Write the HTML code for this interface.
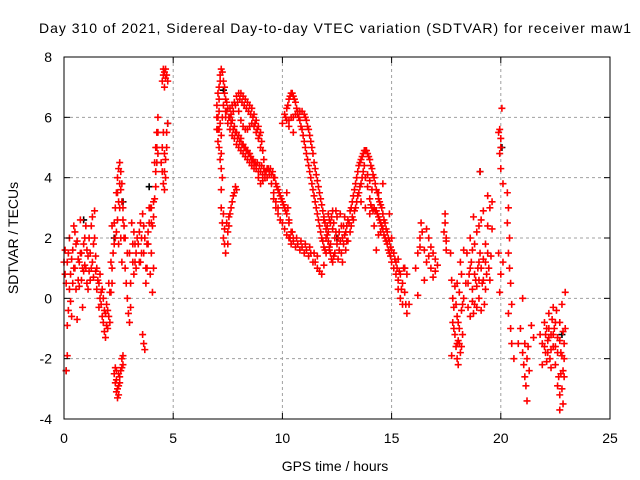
<!DOCTYPE html>
<html><head><meta charset="utf-8"><style>
html,body{margin:0;padding:0;background:#fff;}
svg{display:block;font-family:"Liberation Sans",sans-serif;}
</style></head><body>
<svg id="chart" width="640" height="480" viewBox="0 0 640 480">
<rect x="0" y="0" width="640" height="480" fill="#fff"/>
<text x="335" y="33" font-size="14" text-anchor="middle" textLength="592">Day 310 of 2021, Sidereal Day-to-day VTEC variation (SDTVAR) for receiver maw1</text>
<g id="grid"></g>
<g id="black"></g>
<g id="red"></g>
<rect x="64" y="57" width="546" height="362" fill="none" stroke="#000" stroke-width="1"/>
<g id="ticks"></g>
<text x="335" y="471" font-size="14" text-anchor="middle">GPS time / hours</text>
<text transform="translate(18,238) rotate(-90)" font-size="14" text-anchor="middle">SDTVAR / TECUs</text>
</svg>
<script>
const xTicks = [0,5,10,15,20,25];
const yTicks = [-4,-2,0,2,4,6,8];
const blackPoints = [[0.1,-2.4],[0.9,2.6],[2.7,3.2],[3.9,3.7],[4.75,5.8],[19.05,4.2],[20.05,5.0],[15.6,1.0],[2.3,2.0],[22.8,-1.2],[12.5,2.0],[7.3,6.9]];
const redPointsMain = [
[0.0,1.2],[0.05,1.6],[0.1,0.5],[0.1,-2.4],[0.15,-1.9],[0.15,-0.9],[0.2,-0.4],[0.2,1.5],[0.25,2.0],[0.3,0.8],[0.3,-0.1],[0.35,1.3],[0.4,1.6],[0.4,0.5],[0.45,2.4],[0.5,1.0],[0.5,2.2],[0.55,0.3],[0.6,1.9],[0.6,-0.7],[0.65,1.3],[0.7,1.2],[0.7,0.4],[0.75,2.6],[0.8,0.6],[0.8,1.5],[0.85,-0.3],[0.9,1.8],[0.9,0.9],[0.95,1.1],[1.0,1.0],[1.0,2.4],[1.05,0.5],[1.1,0.3],[1.1,1.4],[1.15,2.0],[1.2,1.5],[1.2,0.6],[1.25,2.4],[1.3,2.7],[1.3,1.2],[1.35,0.7],[1.4,2.0],[1.4,2.9],[1.45,0.9],[1.5,1.0],[1.5,0.3],
[1.6,0.5],[1.6,-0.3],[1.65,0.8],[1.7,-0.2],[1.7,0.2],[1.75,-0.6],[1.8,-0.8],[1.8,0.0],[1.85,-1.1],[1.9,-1.3],[1.9,-0.5],[1.95,-0.9],[2.0,-0.4],[2.0,-1.0],[2.05,0.5],[2.1,0.2],[2.1,-0.8],[2.15,1.2],[2.2,1.0],[2.2,0.5],[2.2,2.4],
[2.25,1.5],[2.3,2.5],[2.3,1.8],[2.35,3.0],[2.4,3.5],[2.4,2.2],[2.45,4.0],[2.5,4.3],[2.5,3.2],[2.55,4.5],[2.6,4.2],[2.6,3.6],[2.65,3.8],[2.7,3.0],[2.7,2.6],[2.75,2.0],[2.8,1.0],[2.8,2.0],[2.85,0.5],[2.9,1.5],[2.55,3.0],[2.6,2.0],[2.65,1.2],[2.5,1.8],
[2.3,-2.5],[2.35,-2.8],[2.4,-3.1],[2.45,-3.3],[2.5,-2.9],[2.55,-2.6],[2.6,-2.4],[2.65,-2.0],[2.7,-2.2],[2.4,-2.4],[2.5,-2.5],[2.7,-1.9],[2.35,-2.3],
[2.9,0.0],[2.95,-0.5],[3.0,-0.8],[3.05,-0.3],[3.0,1.5],[3.05,0.5],[3.1,2.5],[3.15,1.8],[3.2,2.2],[3.25,1.2],[3.3,1.5],[3.2,0.8],[3.3,1.0],[3.35,2.0],
[3.4,1.8],[3.45,1.2],[3.5,2.5],[3.55,2.0],[3.6,2.8],[3.65,1.5],[3.7,2.0],[3.75,1.0],[3.8,1.0],[3.85,1.8],[3.9,2.5],[3.95,3.0],[4.0,3.0],[4.05,2.4],[4.1,3.2],[3.5,1.2],[3.6,-1.2],[3.65,-1.5],[3.7,-1.7],[3.8,1.8],[3.9,3.0],[4.0,1.5],[3.95,0.8],[3.75,0.5],[4.05,0.2],[4.1,1.0],
[4.15,4.5],[4.2,5.0],[4.25,5.5],[4.3,6.0],[4.2,4.2],[4.25,5.0],[4.3,4.8],[4.2,3.7],[4.15,3.3],
[4.45,4.5],[4.5,5.0],[4.55,5.5],[4.6,4.2],[4.65,4.0],[4.7,5.5],[4.75,5.8],[4.55,3.8],[4.6,3.6],[4.65,4.6],[4.5,7.2],[4.55,7.4],[4.6,7.5],[4.65,7.6],[4.7,7.4],[4.75,7.2],[4.6,7.0],
[7.0,6.4],[7.05,6.0],[7.1,7.0],[7.15,7.4],[7.2,7.6],[7.25,7.5],[7.3,7.2],[7.35,6.8],[7.4,6.6],[7.45,6.5],[7.1,6.6],[7.15,7.2],
[7.0,5.6],[7.05,5.2],[7.1,5.0],[7.15,4.6],[7.2,4.3],[7.0,6.0],[7.05,5.6],
[7.2,3.0],[7.25,2.5],[7.3,2.0],[7.35,1.8],[7.4,1.5],[7.3,2.8],[7.2,3.6],[7.35,2.3],
[7.45,2.5],[7.5,2.2],[7.55,2.7],[7.6,2.8],[7.65,3.0],[7.7,3.2],[7.75,3.4],[7.8,3.5],[7.85,3.7],[7.9,3.6],[7.5,1.8],[7.55,2.4],
[7.4,6.0],[7.5,5.8],[7.6,5.6],[7.7,5.4],[7.8,5.3],[7.9,5.1],[8.0,5.0],[8.1,4.9],[8.2,4.8],[8.3,4.7],[8.4,4.6],[8.5,4.5],[8.6,4.4],[8.7,4.3],[8.8,4.3],[8.9,4.2],[9.0,4.2],[9.1,4.1],[9.2,4.0],[9.3,4.0],[9.4,4.1],[9.5,4.1],[9.6,4.0],[9.7,3.8],[9.8,3.6],[9.9,3.4],[10.0,3.2],[10.1,3.0],[10.2,2.8],[10.3,2.5],[10.4,2.2],[10.5,2.0],
[7.5,6.3],[7.6,6.0],[7.7,5.9],[7.8,5.7],[7.9,5.5],[8.0,5.4],[8.1,5.3],[8.2,5.1],[8.3,5.0],[8.4,4.9],[8.5,4.8],[8.6,4.6],[8.7,4.5],[8.8,4.4],[8.9,4.0],[9.0,3.8],[9.1,3.9],[9.2,4.2],[9.3,4.3],[9.4,4.2],[9.5,3.8],[9.6,3.5],[9.7,3.2],[9.8,3.0],
[7.6,6.3],[7.7,6.4],[7.8,6.5],[7.9,6.7],[8.0,6.8],[8.1,6.8],[8.2,6.7],[8.3,6.6],[8.4,6.5],[8.5,6.4],[8.6,6.3],[8.7,6.1],[8.8,5.9],[8.9,5.7],[9.0,5.5],
[8.0,6.2],[8.1,5.9],[8.2,5.7],[8.3,5.6],[8.4,5.6],[8.5,5.7],[8.6,5.8],[8.7,5.7],[8.8,5.5],[8.9,5.3],[9.0,5.0],
[9.6,3.3],[9.7,3.0],[9.8,2.8],[9.9,2.6],[10.0,2.5],[10.1,2.3],[10.2,2.1],[10.3,2.0],
[10.0,5.8],[10.1,6.1],[10.2,6.3],[10.3,6.6],[10.4,6.8],[10.5,6.7],[10.6,6.5],[10.7,6.2],[10.8,5.9],[10.9,5.6],[11.0,5.2],[11.1,4.8],[11.2,4.4],[11.3,4.0],[11.4,3.6],[11.5,3.2],[11.6,2.8],[11.7,2.4],[11.8,2.0],[11.9,1.7],[12.0,1.5],
[10.2,5.9],[10.4,6.0],[10.6,6.1],[10.8,6.2],[11.0,6.1],[11.1,5.9],[11.2,5.6],[11.3,5.2],[11.4,4.8],[11.5,4.3],[11.6,3.9],[11.7,3.5],[11.8,3.1],[11.9,2.7],[12.0,2.3],[12.1,1.9],[12.2,1.5],[12.3,1.2],[10.3,5.7],[10.5,5.5],
[10.35,2.0],[10.5,1.9],[10.7,1.8],[10.9,1.7],[11.1,1.6],[11.3,1.5],[11.5,1.2],[11.7,0.9],[11.8,0.8],[11.6,1.4],[11.9,1.1],
[10.2,3.5],[10.25,3.0],[10.3,2.6],
[12.0,2.0],[12.1,2.2],[12.2,2.5],[12.3,2.3],[12.4,2.0],[12.5,1.8],[12.6,1.6],[12.7,1.5],[12.8,1.8],[12.9,2.2],[13.0,2.6],[12.2,1.8],[12.4,1.5],[12.6,2.2],[12.8,2.4],[13.0,1.9],[13.1,2.2],[13.2,2.7],[12.3,2.9],[12.5,2.7],[12.7,2.4],[12.9,1.6],[11.9,2.6],[12.1,2.8],
[13.1,2.9],[13.2,3.2],[13.3,3.6],[13.4,4.0],[13.5,4.4],[13.6,4.6],[13.7,4.8],[13.8,4.9],[13.9,4.8],[14.0,4.6],[14.1,4.3],[14.2,4.0],[14.3,3.6],[14.4,3.3],[14.5,3.1],[14.6,2.8],[14.7,2.5],[14.8,2.2],[14.9,1.9],[15.0,1.6],
[13.3,2.9],[13.4,3.2],[13.5,3.5],[13.6,3.8],[13.7,4.2],[13.8,4.0],[13.9,3.7],[14.0,3.3],[14.1,3.0],[14.2,3.0],[14.3,2.9],[14.4,2.7],[14.5,2.5],[14.6,2.3],[14.7,2.0],[14.8,1.8],[14.9,1.5],[15.0,1.2],[13.9,4.1],[14.0,3.9],[14.1,3.6],
[13.6,3.2],[13.8,3.0],[14.0,2.8],[14.2,2.4],[14.4,2.1],
[15.1,1.0],[15.2,0.8],[15.3,0.6],[15.1,1.5],[15.2,1.2],[15.3,0.3],[15.4,0.8],[15.5,0.5],[15.5,-0.2],[15.6,0.2],[15.7,-0.5],[15.7,0.8],[15.8,-0.2],[15.6,1.0],[15.4,0.0],[15.3,1.3],
[14.3,1.6],[14.4,3.5],[14.6,3.8],[14.5,2.2],[15.0,2.0],[14.9,2.8],
[16.1,1.0],[16.2,1.5],[16.3,2.0],[16.35,2.5],[16.4,2.2],[16.5,1.6],[16.6,1.2],[16.7,1.4],[16.8,1.0],[16.9,1.5],[17.0,1.3],[17.1,1.1],[16.3,1.7],[16.5,0.6],[16.7,2.0],[16.9,0.7],[16.8,1.7],[17.0,0.9],[16.2,0.1],[16.6,2.3],
[17.4,2.2],[17.45,2.5],[17.5,2.0],[17.5,1.9],[17.45,2.8],[17.5,1.6],
[17.7,1.5],[17.75,0.6],[17.8,0.0],[17.8,-0.8],[17.85,-0.3],[17.9,-1.2],[17.9,0.4],[17.95,-1.6],[18.0,-2.0],[18.0,-0.6],[18.05,-2.2],[18.1,-1.0],[18.1,0.2],[18.15,-1.8],[18.2,-0.4],[18.2,0.8],[18.25,-1.2],[18.3,0.0],[18.3,1.6],[17.75,-1.9],[17.95,-0.2],[18.0,0.5],[18.15,1.2],[18.05,-1.4],
[18.4,0.5],[18.45,1.5],[18.5,-0.3],[18.55,0.8],[18.6,2.0],[18.65,1.2],[18.7,0.3],[18.75,-0.5],[18.8,1.8],[18.85,0.6],[18.9,2.2],[18.95,1.0],[19.0,0.0],[19.05,1.5],[19.1,2.6],[19.15,0.5],[19.2,1.3],[19.25,-0.2],[19.3,1.8],[19.35,0.8],[19.4,2.4],[19.45,1.0],[19.5,3.0],[19.55,1.4],[18.6,-0.6],[18.7,1.6],[18.9,-0.3],[19.0,1.2],[19.1,-0.4],[19.3,0.3],[19.5,0.6],[19.2,2.9],[19.0,2.4],[18.8,-0.2],
[19.05,4.2],[18.75,2.7],[19.4,3.4],[19.6,3.2],[19.6,2.3],
[19.9,5.5],[19.95,5.6],[20.0,5.3],[20.05,6.3],[20.0,5.0],[19.95,4.8],[20.1,3.8],[20.0,4.3],[19.9,1.5],[20.0,0.8],[19.95,0.2],[20.1,1.2],
[20.3,3.5],[20.35,3.0],[20.3,2.5],[20.4,2.0],[20.35,1.5],[20.4,1.0],[20.45,0.5],[20.5,-0.2],[20.45,-1.0],[20.5,-1.5],[20.6,-2.0],[20.35,-0.5],
[20.9,-1.0],[21.0,-1.8],[21.05,-2.2],[21.1,-2.6],[21.15,-2.9],[21.2,-3.4],[21.1,-1.5],[21.2,-2.0],[21.3,-2.4],[21.25,-1.6],[21.5,-1.3],[21.4,-0.9],[20.8,-1.5],[21.0,0.0],
[21.8,-1.2],[21.9,-1.5],[22.0,-0.8],[22.05,-1.8],[22.1,-1.0],[22.15,-1.4],[22.2,-0.5],[22.25,-2.0],[22.3,-1.2],[22.35,-0.7],[22.4,-1.6],[22.45,-1.0],[22.5,-2.2],[22.55,-0.4],[22.6,-1.3],[22.65,-2.6],[22.7,-0.8],[22.75,-1.8],[22.8,-3.0],[22.85,-2.4],[22.9,-1.5],[22.95,0.2],[22.85,-3.5],[22.7,-3.2],[22.9,-2.0],[22.6,-2.9],[22.8,-0.2],[22.3,-2.3],[22.0,-1.6],[22.1,-2.1],[21.9,-2.2],[22.4,-0.3],[22.7,-3.7],[22.95,-1.0],[22.5,-1.6],[22.2,-1.3]
];
const redPointsDense = [
[7.45,6.2],[7.55,6.0],[7.65,5.8],[7.75,5.6],[7.85,5.5],[7.95,5.3],[8.05,5.2],[8.15,5.1],[8.25,5.0],[8.35,4.9],[8.45,4.8],[8.55,4.7],[8.65,4.6],[8.75,4.5],[8.85,4.5],[8.95,4.4],[9.05,4.4],[9.15,4.3],[9.25,4.2],[9.35,4.3],[9.45,4.3],[9.55,4.2],[9.65,4.0],[9.75,3.7],[9.85,3.5],[9.95,3.3],[10.05,3.1],[10.15,2.9],
[7.65,6.1],[7.75,6.2],[7.85,6.4],[7.95,6.5],[8.05,6.6],[8.15,6.5],[8.25,6.4],[8.35,6.3],[8.45,6.2],[8.55,6.1],[8.65,6.0],[8.75,5.8],[8.85,5.6],[8.95,5.4],[9.05,5.2],[9.1,4.9],[9.15,4.6],
[7.05,6.8],[7.1,6.2],[7.15,5.8],[7.2,5.4],[7.25,6.0],[7.3,6.4],[7.25,4.0],[7.2,4.8],[7.1,5.6],[7.35,7.0],[7.4,6.2],
[10.15,6.0],[10.25,6.4],[10.35,6.7],[10.45,6.8],[10.55,6.6],[10.65,6.3],[10.75,6.0],[10.85,5.7],[10.95,5.4],[11.05,5.0],[11.15,4.6],[11.25,4.2],[11.35,3.8],[11.45,3.4],[11.55,3.0],[11.65,2.6],[11.75,2.2],[11.85,1.9],[11.95,1.6],
[10.3,5.9],[10.5,6.0],[10.7,6.1],[10.9,6.2],[11.05,6.0],[11.15,5.7],[11.25,5.4],[11.35,5.0],[11.45,4.5],[11.55,4.1],[11.65,3.7],[11.75,3.3],[11.85,2.9],[11.95,2.5],[12.05,2.1],[12.15,1.7],[12.25,1.3],
[10.4,1.8],[10.6,1.7],[10.8,1.6],[11.0,1.5],[11.2,1.4],[11.4,1.2],[11.6,1.0],[10.45,2.2],[10.65,2.0],[10.85,1.9],[11.05,1.8],[11.25,1.7],[11.45,1.5],
[12.05,2.4],[12.15,2.6],[12.25,2.7],[12.35,2.5],[12.45,2.2],[12.55,2.0],[12.65,1.9],[12.75,2.0],[12.85,2.1],[12.95,2.4],[13.05,2.5],[12.15,1.6],[12.35,1.4],[12.55,1.3],[12.75,1.2],[12.95,1.9],[13.15,2.4],[13.25,2.6],[12.45,2.9],[12.65,2.8],[12.85,2.7],
[13.15,3.0],[13.25,3.4],[13.35,3.8],[13.45,4.2],[13.55,4.5],[13.65,4.7],[13.75,4.9],[13.85,4.9],[13.95,4.7],[14.05,4.4],[14.15,4.1],[14.25,3.8],[14.35,3.5],[14.45,3.2],[14.55,3.0],[14.65,2.6],[14.75,2.3],[14.85,2.0],[14.95,1.7],
[13.35,3.0],[13.45,3.4],[13.55,3.7],[13.65,4.0],[13.75,4.4],[14.05,3.1],[14.15,2.9],[14.25,2.9],[14.35,2.8],[14.45,2.6],[14.55,2.4],[14.65,2.1],[14.75,1.9],[14.85,1.6],[14.95,1.4],
[0.05,0.8],[0.15,1.2],[0.25,0.3],[0.35,-0.6],[0.45,1.0],[0.55,1.8],[0.65,0.6],[0.75,1.5],[0.85,1.0],[0.95,2.0],[1.05,1.6],[1.15,0.9],[1.25,1.0],[1.35,1.8],[1.45,1.4],[1.55,0.6],[1.65,0.0],[1.75,0.3],[1.85,-0.4],[1.95,-0.2],[2.05,-0.6],[2.15,0.2],[2.45,3.5],[2.55,3.8],[2.65,3.2],[2.75,2.4],[2.45,2.6],[2.35,2.0],[2.4,-2.7],[2.45,-3.0],[2.55,-2.8],[2.5,-3.2],[2.65,-2.3],[3.15,1.2],[3.25,1.8],[3.45,2.2],[3.55,1.5],[3.65,2.4],[3.85,2.2],[4.0,2.5],[4.1,2.7],[4.25,4.5],[4.3,5.5],[4.55,7.6],[4.65,7.3],[4.7,5.0],[4.6,4.8],[4.5,4.2],
[18.0,-1.5],[18.05,-0.8],[18.1,-1.5],[17.85,-1.0],[18.2,-1.6],[18.25,-0.2],[18.5,0.5],[18.6,1.0],[18.7,-0.1],[18.8,0.8],[18.9,0.4],[19.0,0.6],[19.1,1.0],[19.2,0.6],[19.3,1.2],[19.4,1.5],[22.2,-1.0],[22.3,-1.7],[22.4,-1.2],[22.5,-0.8],[22.6,-1.8],[22.7,-1.4],[22.8,-1.9],[22.9,-2.6],[22.75,-2.5],[22.85,-1.1],[22.05,-1.2],[22.15,-1.8],[15.45,0.3],[15.55,1.0],[15.65,-0.2],[15.35,0.9],[15.25,1.0],[15.15,1.3]
];
const redPoints = redPointsMain.concat(redPointsDense);

const NS = 'http://www.w3.org/2000/svg';
const L = 64, R = 610, T = 57, B = 419;
const xMin = 0, xMax = 25, yMin = -4, yMax = 8;
function xs(v){ return L + (v - xMin) / (xMax - xMin) * (R - L); }
function ys(v){ return B - (v - yMin) / (yMax - yMin) * (B - T); }
function mk(tag, attrs, parent){
  const e = document.createElementNS(NS, tag);
  for (const k in attrs) e.setAttribute(k, attrs[k]);
  parent.appendChild(e);
  return e;
}
const grid = document.getElementById('grid');
const ticks = document.getElementById('ticks');
const svg = document.getElementById('chart');
xTicks.forEach(function(t){
  const x = xs(t);
  if (t > xMin && t < xMax) {
    const g = mk('line', {x1:x, x2:x, y1:T, y2:B, stroke:'#a0a0a0', 'stroke-dasharray':'3,3', 'stroke-width':1}, grid);
    
    
  }
  const a = mk('line', {x1:x, x2:x, y1:B, y2:B-6, stroke:'#000'}, ticks);
  
  
  const b = mk('line', {x1:x, x2:x, y1:T, y2:T+6, stroke:'#000'}, ticks);
  
  
  const lbl = mk('text', {x:x, y:B+24, 'font-size':14, 'text-anchor':'middle'}, svg);
  lbl.textContent = String(t);
  
  
});
yTicks.forEach(function(t){
  const y = ys(t);
  if (t > yMin && t < yMax) {
    const g = mk('line', {x1:L, x2:R, y1:y, y2:y, stroke:'#a0a0a0', 'stroke-dasharray':'3,3', 'stroke-width':1}, grid);
    
    
  }
  const a = mk('line', {x1:L, x2:L+6, y1:y, y2:y, stroke:'#000'}, ticks);
  
  
  const b = mk('line', {x1:R, x2:R-6, y1:y, y2:y, stroke:'#000'}, ticks);
  
  
  const lbl = mk('text', {x:52, y:y+5, 'font-size':14, 'text-anchor':'end'}, svg);
  lbl.textContent = String(t);
  
  
});
function plus(parent, p, color){
  const x = xs(p[0]), y = ys(p[1]);
  const el = mk('path', {d:'M'+(x-3.5)+' '+y+'H'+(x+3.5)+'M'+x+' '+(y-3.5)+'V'+(y+3.5), stroke:color, 'stroke-width':1.6, fill:'none'}, parent);
  return el;
}
const blackG = document.getElementById('black');
blackPoints.forEach(function(p){
  const el = plus(blackG, p, '#000');
  
  
});
const redG = document.getElementById('red');
redPoints.forEach(function(p){
  const el = plus(redG, p, '#ff0000');
  
  
});
</script>
</body></html>
